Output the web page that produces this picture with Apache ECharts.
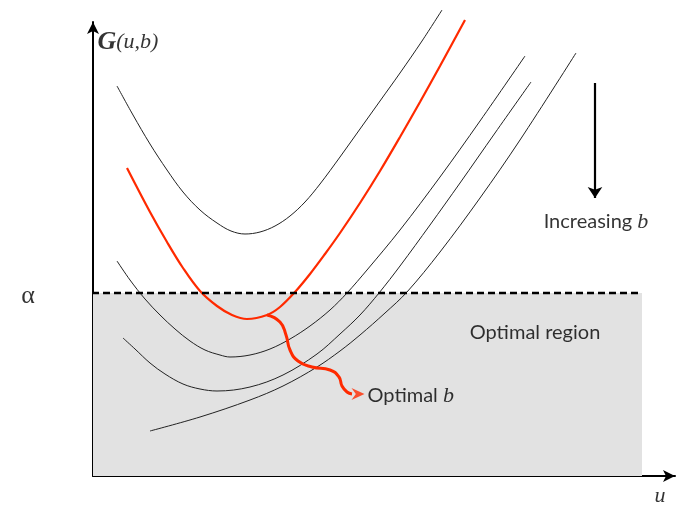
<!DOCTYPE html>
<html><head><meta charset="utf-8">
<script src="https://cdn.jsdelivr.net/npm/echarts@6/dist/echarts.min.js"></script>
<style>html,body{margin:0;padding:0;background:#fff}#c{width:676px;height:506px}</style>
</head><body><div id="c"></div>
<script>
// Curves G(u,b) for several b values (arbitrary units)
const curve1U = [2.4, 4.0, 5.7, 7.4, 9.0, 10.7, 12.4, 13.8, 15.2, 16.7, 18.2, 19.7, 21.2, 22.7, 24.7, 26.7, 28.7, 30.7, 32.9, 34.9];
const curve1G = [39.0, 36.1, 33.2, 30.6, 28.4, 26.6, 25.3, 24.5, 24.2, 24.4, 25.0, 26.0, 27.4, 29.2, 31.9, 34.7, 37.5, 40.3, 43.5, 46.6];
const optimalCurveU = [3.4, 5.7, 7.4, 9.0, 10.7, 12.4, 13.9, 15.4, 17.4, 18.7, 20.2, 21.7, 23.2, 24.7, 26.7, 28.7, 30.7, 32.7, 34.7, 37.2];
const optimalCurveG = [30.8, 26.4, 23.4, 20.8, 18.5, 17.0, 16.1, 15.7, 16.1, 16.9, 18.4, 20.2, 22.2, 24.3, 27.3, 30.5, 33.9, 37.4, 41.0, 45.6];
const curve3U = [2.4, 3.7, 5.2, 6.7, 8.2, 9.7, 11.2, 12.7, 13.7, 15.7, 17.7, 19.7, 21.7, 23.7, 25.4, 27.4, 30.7, 34.7, 38.7, 43.2];
const curve3G = [21.5, 19.6, 17.7, 16.1, 14.7, 13.5, 12.6, 12.1, 11.9, 12.1, 12.7, 13.7, 15.0, 16.6, 18.3, 20.6, 24.6, 29.9, 35.5, 42.0];
const curve4U = [3.0, 4.2, 5.7, 7.2, 9.0, 10.7, 12.4, 15.7, 19.0, 22.4, 24.7, 26.7, 28.6, 30.7, 33.7, 36.7, 40.2, 43.8];
const curve4G = [13.8, 12.7, 11.3, 10.2, 9.2, 8.7, 8.5, 8.9, 10.1, 12.2, 14.2, 16.1, 18.3, 21.0, 25.1, 29.3, 34.3, 39.4];
const curve5U = [5.7, 10.7, 15.7, 19.0, 22.4, 24.7, 26.7, 29.2, 31.4, 34.7, 38.7, 42.7, 48.3];
const curve5G = [4.5, 5.9, 7.6, 9.0, 10.9, 12.5, 14.1, 16.3, 18.4, 22.4, 27.8, 33.6, 42.3];
// threshold alpha and optimal region
const alphaLevel = 18.3;
const dashU = [-4.5, 54.9];
const regionU = [0, 54.9];
// "Optimal b" pointer
const pointerU = [17.4, 18.7, 19.3, 19.7, 20.5, 21.9, 23.7, 24.6, 24.9, 25.4, 25.9];
const pointerG = [16.1, 15.4, 14.1, 12.6, 11.5, 10.9, 10.6, 9.9, 9.0, 8.4, 8.2];
const pointerHead = [26.5, 8.2];
// "Increasing b" arrow
const increaseArrowU = [50.2, 50.2];
const increaseArrowG = [39.3, 27.8];
// text annotations
const labelTexts = ['{g|G}{it|(u,b)}', '{sf|\u03b1}', '{ss|Increasing }{it|b}', '{ss|Optimal region}', '{ss|Optimal }{it|b}', '{it|u}'];
const labelU = [0.4, -6.5, 50.3, 44.2, 27.4, 56.7];
const labelG = [43.4, 18.0, 25.4, 14.3, 8.0, -2.0];
const labelPos = ['right', 'inside', 'inside', 'inside', 'right', 'inside'];

const zip = (a, b) => a.map((v, i) => [v, b[i]]);
const RED = '#ff2a00';
const thin = (u, g) => ({type: 'line', data: zip(u, g), smooth: 0.35, symbol: 'none', clip: false,
  lineStyle: {color: '#222', width: 1}, z: 3});

const chart = echarts.init(document.getElementById('c'), null, {renderer: 'canvas'});
chart.setOption({
  animation: false,
  backgroundColor: '#fff',
  grid: {left: 93, right: 1, top: 22, bottom: 30},
  xAxis: {type: 'value', min: 0, max: 58.2, axisTick: {show: false}, axisLabel: {show: false}, splitLine: {show: false},
    axisLine: {lineStyle: {color: '#000', width: 2}, symbol: ['none', 'arrow'], symbolSize: [9, 12]}},
  yAxis: {type: 'value', min: 0, max: 45.4, axisTick: {show: false}, axisLabel: {show: false}, splitLine: {show: false},
    axisLine: {lineStyle: {color: '#000', width: 2}, symbol: ['none', 'arrow'], symbolSize: [9, 12]}},
  series: [
    {type: 'line', data: regionU.map(u => [u, alphaLevel]), symbol: 'none', clip: false,
      lineStyle: {width: 0, opacity: 0}, areaStyle: {color: '#e2e2e2', opacity: 1}, z: 1},
    thin(curve1U, curve1G),
    thin(curve3U, curve3G),
    thin(curve4U, curve4G),
    thin(curve5U, curve5G),
    {type: 'line', data: zip(optimalCurveU, optimalCurveG), smooth: 0.35, symbol: 'none', clip: false,
      lineStyle: {color: RED, width: 2.2}, z: 4},
    {type: 'line', data: dashU.map(u => [u, alphaLevel]), symbol: 'none', clip: false,
      lineStyle: {color: '#000', width: 2.5, type: [7, 4]}, z: 5},
    {type: 'line', data: zip(pointerU, pointerG), smooth: 0.5, symbol: 'none', clip: false,
      lineStyle: {color: RED, width: 3}, z: 6},
    {type: 'scatter', data: [pointerHead], clip: false, symbol: 'path://M0,0 L12,6 L0,12 L4,6 Z',
      symbolSize: [13, 12], itemStyle: {color: RED}, z: 7},
    {type: 'lines', coordinateSystem: 'cartesian2d', polyline: false,
      data: [{coords: zip(increaseArrowU, increaseArrowG)}],
      symbol: ['none', 'arrow'], symbolSize: 11,
      lineStyle: {color: '#000', width: 2.2, opacity: 1}, z: 6},
    {type: 'scatter', clip: false, symbolSize: 1, itemStyle: {color: 'rgba(0,0,0,0)'}, z: 8,
      data: labelTexts.map((t, i) => ({value: [labelU[i], labelG[i]],
        label: {show: true, position: labelPos[i], distance: 0, formatter: t, color: '#000',
          rich: {
            g: {fontFamily: 'Liberation Serif', fontStyle: 'italic', fontWeight: 'bold', fontSize: 26, color: '#000'},
            it: {fontFamily: 'Liberation Serif', fontStyle: 'italic', fontSize: 22, color: '#000'},
            sf: {fontFamily: 'Liberation Serif', fontSize: 26, color: '#000'},
            ss: {fontFamily: 'Lato', fontSize: 20, color: '#000'}
          }}}))}
  ]
});
</script></body></html>
